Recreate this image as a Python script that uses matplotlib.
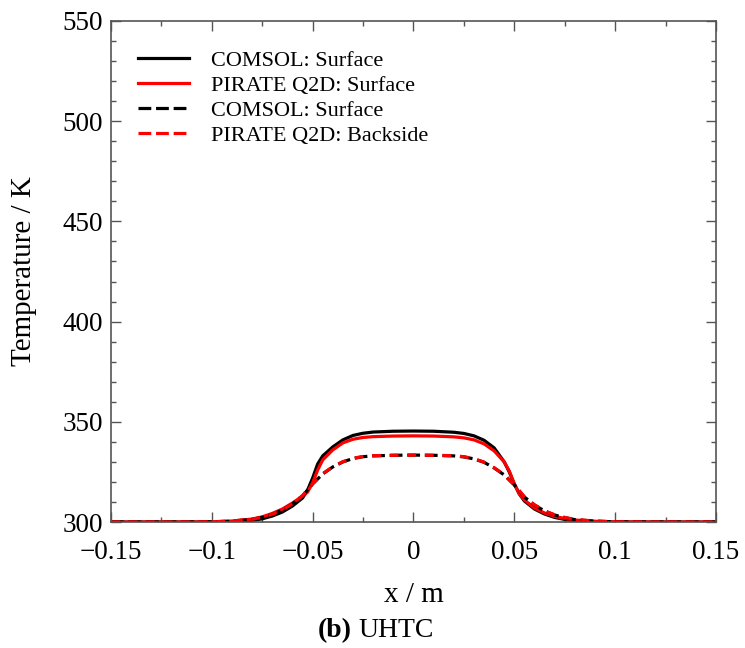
import numpy as np
import matplotlib.pyplot as plt
from matplotlib.ticker import MultipleLocator

plt.rcParams['font.family'] = ['Liberation Serif', 'DejaVu Serif']

# === Data ===
x = [-0.15, -0.12, -0.1, -0.09, -0.08, -0.075, -0.07, -0.065, -0.06, -0.055,
     -0.0525, -0.05, -0.0475, -0.045, -0.04, -0.035, -0.03, -0.025, -0.02, -0.01,
     0.0, 0.01, 0.02, 0.025, 0.03, 0.035, 0.04, 0.045, 0.0475, 0.05,
     0.0525, 0.055, 0.06, 0.065, 0.07, 0.075, 0.08, 0.09, 0.1, 0.12, 0.15]

comsol_surface = [300, 300, 300, 300.2, 300.8, 301.6, 303, 305, 308, 312,
                  316, 322, 329, 333, 337.5, 341, 343.2, 344.3, 344.9, 345.3,
                  345.4, 345.3, 344.8, 344.2, 343, 340.8, 337, 330, 325, 319,
                  314, 310.5, 306.5, 304, 302.3, 301.3, 300.7, 300.2, 300, 300, 300]

pirate_surface = [300, 300, 300.1, 300.5, 301.5, 302.6, 304.3, 306.5, 309.5, 313,
                  315, 319.5, 326, 331, 336, 339.5, 341.3, 342.2, 342.6, 342.9,
                  343.0, 342.9, 342.5, 342, 341, 339, 335.5, 330, 325.5, 319,
                  314, 311, 307, 304.5, 302.8, 301.8, 301, 300.4, 300.1, 300, 300]

comsol_back = [300, 300, 300.1, 300.4, 301.3, 302.3, 303.8, 306, 309, 313,
               316, 319, 321.5, 324, 327.5, 330, 331.7, 332.6, 333, 333.3,
               333.4, 333.3, 333, 332.5, 331.5, 329.8, 327, 323.5, 321, 318.5,
               315.5, 312.5, 308.5, 305.5, 303.5, 302.2, 301.2, 300.4, 300.1, 300, 300]

pirate_back = [300, 300, 300.1, 300.5, 301.4, 302.4, 303.9, 306.1, 309.1, 313.2,
               316.2, 319.1, 321.6, 324.1, 327.6, 330.1, 331.8, 332.7, 333.1, 333.3,
               333.4, 333.3, 333.1, 332.6, 331.6, 329.9, 327.1, 323.6, 321.1, 318.6,
               315.6, 312.6, 308.6, 305.6, 303.6, 302.3, 301.3, 300.5, 300.1, 300, 300]

labels = ["COMSOL: Surface", "PIRATE Q2D: Surface", "COMSOL: Surface", "PIRATE Q2D: Backside"]

fig = plt.figure(figsize=(7.45, 6.48), dpi=100)
ax = fig.add_axes([0.149, 0.1944, 0.812, 0.7732])

ax.plot(x, comsol_surface, color='black', lw=2.3, label=labels[0])
ax.plot(x, pirate_surface, color='red', lw=2.3, label=labels[1])
ax.plot(x, comsol_back, color='black', lw=2.3, dashes=(4, 1.5), label=labels[2])
ax.plot(x, pirate_back, color='red', lw=2.3, dashes=(2.75, 2.75),
        label=labels[3])

ax.set_xlim(-0.15, 0.15)
ax.set_ylim(300, 550)
ax.set_xticks([-0.15, -0.1, -0.05, 0, 0.05, 0.1, 0.15])
ax.set_xticklabels(["\u22120.15", "\u22120.1", "\u22120.05", "0", "0.05", "0.1", "0.15"])
ax.xaxis.set_minor_locator(MultipleLocator(0.025))
ax.yaxis.set_major_locator(MultipleLocator(50))
ax.yaxis.set_minor_locator(MultipleLocator(10))

ax.tick_params(which='both', direction='in', top=True, right=True,
               color='#555555', labelsize=19.5)
ax.tick_params(which='major', length=7, width=1)
ax.tick_params(which='minor', length=3.5, width=1)
ax.tick_params(axis='x', pad=13)
ax.tick_params(axis='y', pad=6)
for s in ax.spines.values():
    s.set_color('#555555')
    s.set_linewidth(1.2)

ax.set_ylabel("Temperature / K", fontsize=21, labelpad=18)
ax.set_xlabel("x / m", fontsize=21, labelpad=12)

leg = ax.legend(loc='upper left', frameon=False, fontsize=16, handlelength=2.3,
                handletextpad=1.0, labelspacing=0.2, borderaxespad=0.8,
                bbox_to_anchor=(0.0, 0.995))
# red dashed legend handle should look like plain red dashes
leg.get_lines()[3].set_dashes((4, 1.5))

fig.text(0.472, 0.027, "(b)", fontsize=20, fontweight='bold', ha='right', va='center')
fig.text(0.481, 0.027, "UHTC", fontsize=20, ha='left', va='center')

fig.savefig("out.png", dpi=100)
